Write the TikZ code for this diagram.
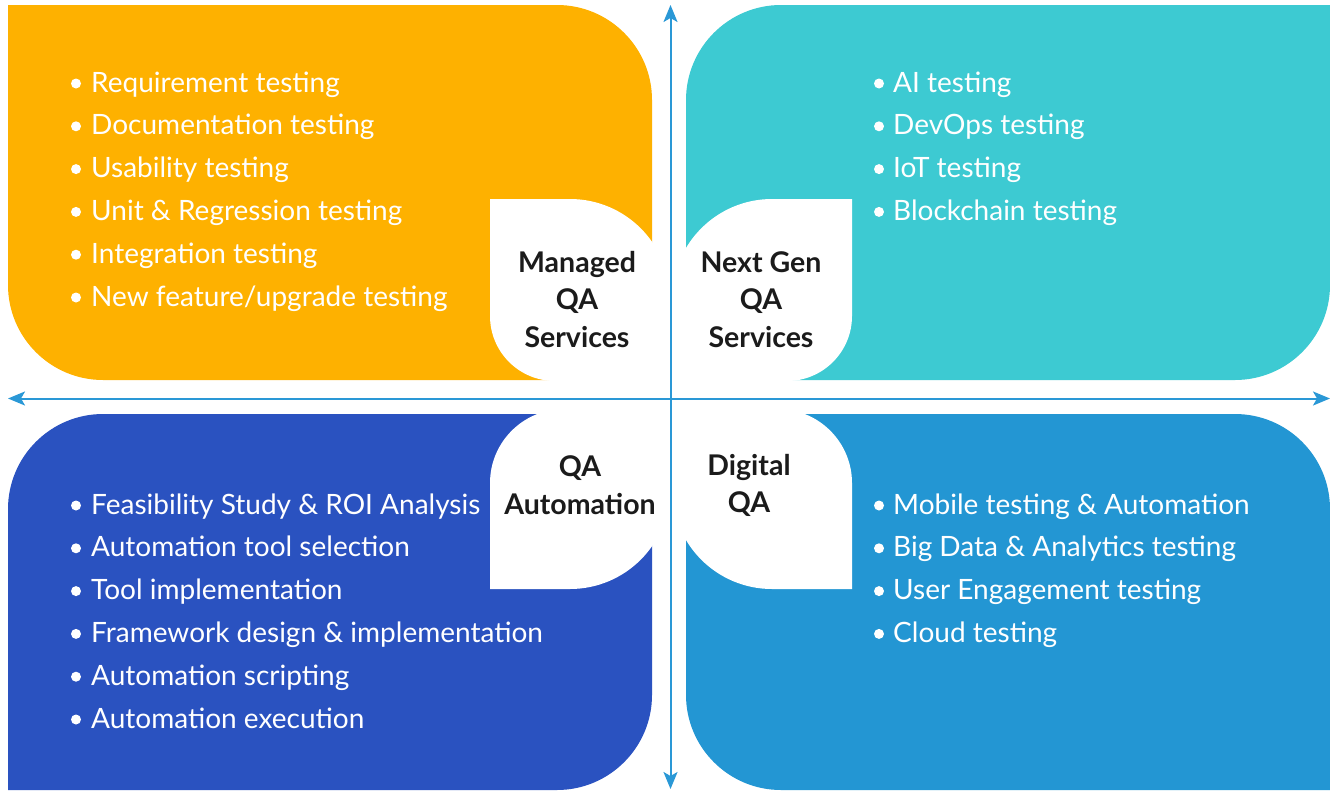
\documentclass[tikz,border=0pt]{standalone}
\usepackage{fontspec}
\setmainfont{Lato}
\usetikzlibrary{arrows.meta}
\definecolor{qorange}{HTML}{FEB100}
\definecolor{qteal}{HTML}{3DCAD2}
\definecolor{qdark}{HTML}{2A52C0}
\definecolor{qblue}{HTML}{2396D3}
\definecolor{qaxis}{HTML}{2A98D6}
\definecolor{qtext}{HTML}{1B1B1B}
\begin{document}
\begin{tikzpicture}[x=1pt,y=-1pt,
  item/.style={anchor=base west,inner sep=0pt,text=white,font=\fontsize{28}{32}\selectfont},
  lab/.style={align=center,inner sep=0pt,text=qtext,font=\bfseries\fontsize{28.5}{37.5}\selectfont},
  axis/.style={draw=qaxis,line width=2pt,{Stealth[length=17pt,width=14pt,inset=4pt]}-{Stealth[length=17pt,width=14pt,inset=4pt]}}]
\useasboundingbox (0,0) rectangle (1330,790);
% quadrants
\fill[qorange] (8,5) -- (557,5) .. controls (609.4,5) and (652,47.6) .. (652,100) -- (652,380) -- (103,380) .. controls (50.6,380) and (8,337.4) .. (8,285) -- cycle;
\fill[qteal] (1330,5) -- (1330,285) .. controls (1330,337.4) and (1287.4,380) .. (1235,380) -- (686,380) -- (686,100) .. controls (686,47.6) and (728.6,5) .. (781,5) -- cycle;
\fill[qdark] (8,790) -- (8,509) .. controls (8,456.6) and (50.6,414) .. (103,414) -- (652,414) -- (652,695) .. controls (652,747.4) and (609.4,790) .. (557,790) -- cycle;
\fill[qblue] (686,414) -- (1235,414) .. controls (1287.4,414) and (1330,456.6) .. (1330,509) -- (1330,790) -- (781,790) .. controls (728.6,790) and (686,747.4) .. (686,695) -- cycle;
% white leaves
\fill[white] (490,199) -- (570,199) .. controls (625.2,199) and (670,243.8) .. (670,299) -- (670,381) -- (555,381) .. controls (519.1,381) and (490,351.9) .. (490,316) -- cycle;
\fill[white] (852,199) -- (852,316) .. controls (852,351.9) and (822.9,381) .. (787,381) -- (672,381) -- (672,299) .. controls (672,243.8) and (716.8,199) .. (772,199) -- cycle;
\fill[white] (490,589) -- (490,483) .. controls (490,442.2) and (523.2,409) .. (564,409) -- (670,409) -- (670,489) .. controls (670,544.2) and (625.2,589) .. (570,589) -- cycle;
\fill[white] (852,589) -- (852,483) .. controls (852,442.2) and (818.8,409) .. (778,409) -- (672,409) -- (672,489) .. controls (672,544.2) and (716.8,589) .. (772,589) -- cycle;
% axes
\coordinate (vtop) at (670.5,5);
\coordinate (vbot) at (670.5,789);
\coordinate (hleft) at (8,398.5);
\coordinate (hright) at (1330,398.5);
\draw[axis] (vbot) -- (vtop);
\draw[axis] (hleft) -- (hright);
% labels
\node[lab] (managed) at (577,299.5) {Managed\\QA\\Services};
\node[lab] (nextgen) at (761,299.5) {Next Gen\\QA\\Services};
\node[lab] (qaauto) at (580,485) {QA\\Automation};
\node[lab] (digital) at (749,485.5) {Digital\\QA};
% lists
\foreach \t [count=\i] in {Requirement testing,Documentation testing,Usability testing,Unit \& Regression testing,Integration testing,New feature/upgrade testing}{
  \node[item] (tl\i) at (91,{92+42.8*(\i-1)}) {\t};
  \fill[white] (76,{83.5+42.8*(\i-1)}) circle (5);
}
\foreach \t [count=\i] in {AI testing,DevOps testing,IoT testing,Blockchain testing}{
  \node[item] (tr\i) at (893,{92+42.8*(\i-1)}) {\t};
  \fill[white] (879,{83.5+42.8*(\i-1)}) circle (5);
}
\foreach \t [count=\i] in {Feasibility Study \& ROI Analysis,Automation tool selection,Tool implementation,Framework design \& implementation,Automation scripting,Automation execution}{
  \node[item] (bl\i) at (91,{514+42.8*(\i-1)}) {\t};
  \fill[white] (76,{505.5+42.8*(\i-1)}) circle (5);
}
\foreach \t [count=\i] in {Mobile testing \& Automation,Big Data \& Analytics testing,User Engagement testing,Cloud testing}{
  \node[item] (br\i) at (893,{514+42.8*(\i-1)}) {\t};
  \fill[white] (879,{505.5+42.8*(\i-1)}) circle (5);
}
\end{tikzpicture}
\end{document}
